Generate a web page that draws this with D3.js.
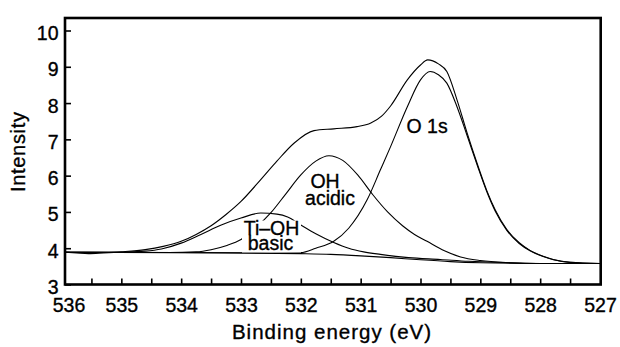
<!DOCTYPE html>
<html>
<head>
<meta charset="utf-8">
<script src="https://d3js.org/d3.v7.min.js"></script>
<style>
  body { margin: 0; background: #fff; }
  text { font-family: "Liberation Sans", Arial, sans-serif; fill: #000; stroke: #000; stroke-width: 0.35px; }
</style>
</head>
<body>
<div id="vizXps"></div>
<script>
// Binding energy (eV) / intensity pairs
var background = [[536, 3.89], [534, 3.88], [533, 3.87], [532, 3.85], [531.5, 3.83], [531, 3.79],
    [530.5, 3.74], [530, 3.68], [529.5, 3.63], [529, 3.60], [528, 3.58], [527, 3.58]];

var tiOhBasic = [[536, 3.89], [535, 3.89], [534.6, 3.92], [534.33, 3.98], [534, 4.14], [533.67, 4.38],
    [533.33, 4.64], [533, 4.83], [532.67, 4.97], [532.4, 4.94], [532.22, 4.86], [532, 4.64],
    [531.75, 4.40], [531.45, 4.16], [531.2, 4.00], [530.95, 3.90], [530.67, 3.83], [530.2, 3.74],
    [529.67, 3.69], [529.2, 3.64], [528.5, 3.60], [528, 3.58], [527, 3.58]];

var ohAcidic = [[536, 3.89], [534.2, 3.88], [533.75, 3.90], [533.5, 3.96], [533.25, 4.07], [533, 4.24],
    [532.75, 4.57], [532.5, 4.98], [532.25, 5.50], [532, 6.02], [531.75, 6.40], [531.53, 6.55],
    [531.3, 6.42], [531.05, 6.02], [530.8, 5.48], [530.55, 5.00], [530.3, 4.62], [530.1, 4.38],
    [529.89, 4.19], [529.6, 3.93], [529.33, 3.76], [529, 3.66], [528.5, 3.60], [528, 3.58], [527, 3.58]];

var o1s = [[536, 3.89], [532.5, 3.87], [532, 3.88], [531.75, 4.00], [531.45, 4.19], [531.2, 4.55],
    [530.89, 5.34], [530.67, 6.16], [530.5, 6.80], [530.22, 7.90], [530, 8.64], [529.84, 8.87],
    [529.7, 8.78], [529.56, 8.55], [529.39, 7.90], [529.22, 7.10], [529.05, 6.28], [528.89, 5.55],
    [528.75, 5.02], [528.56, 4.50], [528.35, 4.13], [528.17, 3.93], [527.95, 3.77], [527.78, 3.68],
    [527.5, 3.61], [527, 3.58]];

var envelope = [[536, 3.90], [535.75, 3.87], [535.55, 3.85], [535.3, 3.87], [535, 3.90], [534.6, 3.96],
    [534.3, 4.05], [534, 4.19], [533.75, 4.38], [533.5, 4.62], [533.25, 4.93], [533, 5.29],
    [532.67, 5.89], [532.4, 6.40], [532.11, 6.90], [531.78, 7.24], [531.45, 7.29], [531.06, 7.35],
    [530.83, 7.45], [530.65, 7.64], [530.5, 7.92], [530.22, 8.64], [530, 9.05], [529.88, 9.19],
    [529.7, 9.08], [529.56, 8.87], [529.39, 8.09], [529.22, 7.17], [529.05, 6.32], [528.89, 5.58],
    [528.75, 5.05], [528.56, 4.52], [528.35, 4.15], [528.17, 3.94], [527.95, 3.78], [527.78, 3.69],
    [527.5, 3.61], [527, 3.58]];

// Tick values
var xLabelTicks = [536, 535, 534, 533, 532, 531, 530, 529, 528, 527];
var xHalfTicks = [535.5, 535, 534.5, 534, 533.5, 533, 532.5, 532, 531.5, 531, 530.5, 530,
    529.5, 529, 528.5, 528, 527.5];
var yTicks = [3, 4, 5, 6, 7, 8, 9, 10];

// Frame of the plot area (pixels)
var frame = {left: 65, top: 18, right: 600.7, bottom: 284.5};

var svg = d3.select("#vizXps").append("svg")
    .attr("width", 620)
    .attr("height", 347);

// Scales, energy axis runs backwards
var x = d3.scaleLinear().domain([536, 527]).range([61.5, 600]);
var y = d3.scaleLinear().domain([3, 10]).range([284.5, 30.5]);

svg.append("clipPath")
    .attr("id", "plotClip")
    .append("rect")
    .attr("x", frame.left)
    .attr("y", frame.top)
    .attr("width", frame.right - frame.left)
    .attr("height", frame.bottom - frame.top);

var line = d3.line()
    .x(function(d) { return x(d[0]); })
    .y(function(d) { return y(d[1]); })
    .curve(d3.curveMonotoneX);

var plot = svg.append("g").attr("clip-path", "url(#plotClip)");

[background, tiOhBasic, ohAcidic, o1s, envelope].forEach(function(series) {
    plot.append("path")
        .datum(series)
        .attr("fill", "none")
        .attr("stroke", "#000")
        .attr("stroke-width", 1.1)
        .attr("d", line);
});

// Peak labels (Ti-OH one sits on a white patch that hides the lines behind it)
svg.append("rect")
    .attr("x", 242).attr("y", 220.5)
    .attr("width", 59).attr("height", 32)
    .attr("fill", "#fff");

// one text element per label, second line as a tspan
function addLabel(lines, px, py, anchor, gap) {
    var t = svg.append("text")
        .attr("y", py)
        .attr("text-anchor", anchor)
        .style("font-size", "19.5px");
    lines.forEach(function(l, i) {
        t.append("tspan")
            .attr("x", px + l.dx)
            .attr("dy", i == 0 ? 0 : gap)
            .text(l.txt);
    });
}
addLabel([{txt: "O 1s", dx: 0}], 406.5, 133.3, "start", 0);
addLabel([{txt: "OH", dx: 0}, {txt: "acidic", dx: 5}], 325, 188.3, "middle", 16.7);
addLabel([{txt: "Ti\u2013OH", dx: 1}, {txt: "basic", dx: 0}], 270.5, 235.3, "middle", 15);

// Axes
var xAxis = d3.axisBottom(x)
    .tickValues(xHalfTicks)
    .tickSizeInner(-6)
    .tickSizeOuter(0)
    .tickFormat("");

svg.append("g")
    .attr("transform", "translate(0," + frame.bottom + ")")
    .call(xAxis)
    .call(function(g) {
        g.select(".domain").remove();
        g.selectAll(".tick line").attr("stroke-width", 1.6);
    });

var xLabels = d3.axisBottom(x)
    .tickValues(xLabelTicks)
    .tickSize(0)
    .tickPadding(14)
    .tickFormat(d3.format("d"));

svg.append("g")
    .attr("transform", "translate(0," + frame.bottom + ")")
    .call(xLabels)
    .call(function(g) {
        g.select(".domain").remove();
        g.selectAll(".tick line").remove();
        g.selectAll(".tick text")
            .attr("font-family", null)
            .style("font-size", "19.5px")
            .attr("dx", function(d) { return d == 536 ? 7 : 0; });
    });

var yAxis = d3.axisLeft(y)
    .tickValues(yTicks)
    .tickSizeInner(-6)
    .tickSizeOuter(0)
    .tickPadding(6.5)
    .tickFormat(d3.format("d"));

svg.append("g")
    .attr("transform", "translate(" + frame.left + ",0)")
    .call(yAxis)
    .call(function(g) {
        g.select(".domain").remove();
        g.selectAll(".tick line").attr("stroke-width", 1.6);
        g.selectAll(".tick text")
            .attr("font-family", null)
            .attr("dy", "0.46em")
            .style("font-size", "19.5px");
    });

// Frame box
svg.append("rect")
    .attr("x", frame.left)
    .attr("y", frame.top)
    .attr("width", frame.right - frame.left)
    .attr("height", frame.bottom - frame.top)
    .attr("fill", "none")
    .attr("stroke", "#000")
    .attr("stroke-width", 2.6);

// Axis titles
svg.append("text")
    .attr("x", 332)
    .attr("y", 339)
    .attr("text-anchor", "middle")
    .style("font-size", "20.5px")
    .style("letter-spacing", "1px")
    .text("Binding energy (eV)");

svg.append("text")
    .attr("transform", "translate(25,151.7) rotate(-90)")
    .attr("text-anchor", "middle")
    .style("font-size", "20px")
    .style("letter-spacing", "0.7px")
    .text("Intensity");
</script>
</body>
</html>
